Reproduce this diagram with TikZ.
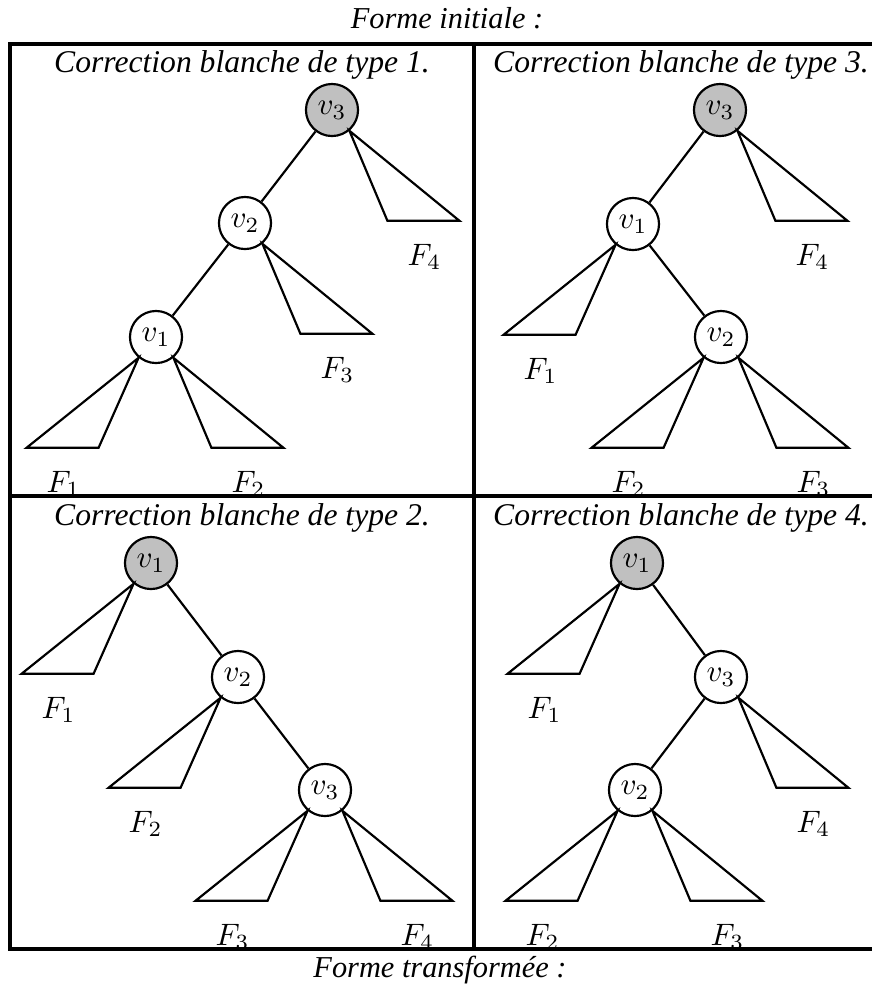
\documentclass[tikz,border=0pt]{standalone}
\usepackage[no-math]{fontspec}
\newfontfamily\capfont{Liberation Serif}
\usetikzlibrary{calc}
\definecolor{nodegray}{RGB}{192,192,192}
\tikzset{
  vnode/.style={circle, draw, line width=0.7pt, minimum size=16.8pt, inner sep=0pt, fill=white, font=\fontsize{10.2}{12}\selectfont},
  rootnode/.style={vnode, fill=nodegray},
  tri/.style={line width=0.7pt, line join=miter},
  captext/.style={font=\capfont\itshape\fontsize{10.2}{12}\selectfont, anchor=base, inner sep=0pt},
  titletext/.style={font=\capfont\itshape\fontsize{9.8}{11}\selectfont, anchor=base, inner sep=0pt},
  flabel/.style={font=\fontsize{10.2}{12}\selectfont, inner sep=0pt},
  framelines/.style={line width=1pt}
}
% left subtree: node, label name, label text
\newcommand\leftsub[3]{%
  \draw[tri] (#1.-130) -- ++(-112,90) -- ++(72,0) -- cycle;
  \node[flabel] (#2) at ($(#1.-130)+(-75,126)$) {$#3$};
}
% right subtree
\newcommand\rightsub[3]{%
  \draw[tri] (#1.-50) -- ++(38,90) -- ++(72,0) -- cycle;
  \node[flabel] (#2) at ($(#1.-50)+(75,126)$) {$#3$};
}
\begin{document}
\begin{tikzpicture}[x=0.3226pt, y=-0.3226pt]
\useasboundingbox (0,0) rectangle (872,985);

\node[titletext] (ttop) at (447,28) {Forme initiale :};
\node[titletext] (tbot) at (440,977) {Forme transform\'ee :};

% ---------- top-left: type 1 ----------
\begin{scope}
\clip (10,44) rectangle (474,496);
\node[captext] (ca) at (242,72) {Correction blanche de type 1.};
\node[rootnode] (a3) at (332,110) {$v_3$};
\node[vnode] (a2) at (245,223) {$v_2$};
\node[vnode] (a1) at (156,337) {$v_1$};
\draw[tri] (a3) -- (a2);
\draw[tri] (a2) -- (a1);
\rightsub{a3}{aF4}{F_4}
\rightsub{a2}{aF3}{F_3}
\leftsub{a1}{aF1}{F_1}
\rightsub{a1}{aF2}{F_2}
\end{scope}

% ---------- top-right: type 3 ----------
\begin{scope}
\clip (474,44) rectangle (872,496);
\node[captext] (cb) at (681,72) {Correction blanche de type 3.};
\node[rootnode] (b3) at (720,110) {$v_3$};
\node[vnode] (b1) at (633,224) {$v_1$};
\node[vnode] (b2) at (721,337) {$v_2$};
\draw[tri] (b3) -- (b1);
\draw[tri] (b1) -- (b2);
\rightsub{b3}{bF4}{F_4}
\leftsub{b1}{bF1}{F_1}
\leftsub{b2}{bF2}{F_2}
\rightsub{b2}{bF3}{F_3}
\end{scope}

% ---------- bottom-left: type 2 ----------
\begin{scope}
\clip (10,496) rectangle (474,949);
\node[captext] (cc) at (242,525) {Correction blanche de type 2.};
\node[rootnode] (c1) at (151,563) {$v_1$};
\node[vnode] (c2) at (238,677) {$v_2$};
\node[vnode] (c3) at (325,790) {$v_3$};
\draw[tri] (c1) -- (c2);
\draw[tri] (c2) -- (c3);
\leftsub{c1}{cF1}{F_1}
\leftsub{c2}{cF2}{F_2}
\leftsub{c3}{cF3}{F_3}
\rightsub{c3}{cF4}{F_4}
\end{scope}

% ---------- bottom-right: type 4 ----------
\begin{scope}
\clip (474,496) rectangle (872,949);
\node[captext] (cd) at (681,525) {Correction blanche de type 4.};
\node[rootnode] (d1) at (637,563) {$v_1$};
\node[vnode] (d3) at (721,677) {$v_3$};
\node[vnode] (d2) at (635,790) {$v_2$};
\draw[tri] (d1) -- (d3);
\draw[tri] (d3) -- (d2);
\leftsub{d1}{dF1}{F_1}
\rightsub{d3}{dF4}{F_4}
\leftsub{d2}{dF2}{F_2}
\rightsub{d2}{dF3}{F_3}
\end{scope}

% frame
\draw[framelines] (872,44) -- (10,44) -- (10,949) -- (872,949);
\draw[framelines] (10,496) -- (872,496);
\draw[framelines] (474,44) -- (474,949);
\end{tikzpicture}
\end{document}
